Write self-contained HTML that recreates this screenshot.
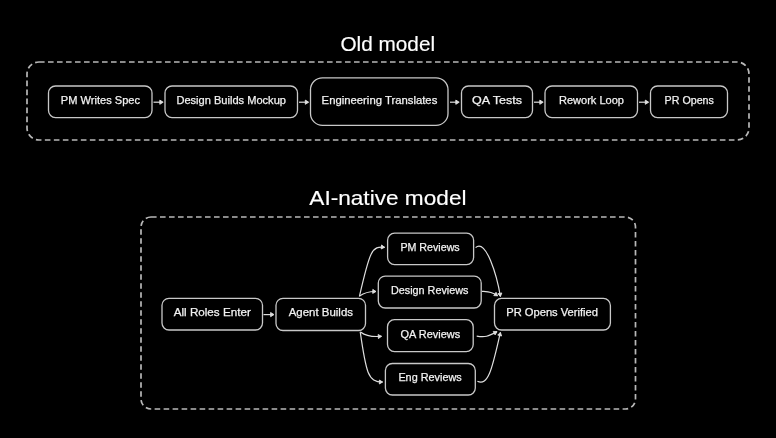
<!DOCTYPE html>
<html><head><meta charset="utf-8"><style>
html,body{margin:0;padding:0;background:#000;width:776px;height:438px;overflow:hidden}
svg{display:block;will-change:transform}
.t{font-family:"Liberation Sans",sans-serif;font-size:11px;fill:#f2f2f2;stroke:#f2f2f2;stroke-width:0.25px}
.h{font-family:"Liberation Sans",sans-serif;font-size:21px;fill:#fff;stroke:#fff;stroke-width:0.15px}
</style></head><body>
<svg width="776" height="438" viewBox="0 0 776 438">
<rect width="776" height="438" fill="#000"/>
<text x="340.4" y="50.6" textLength="94.7" lengthAdjust="spacingAndGlyphs" class="h">Old model</text>
<text x="309.3" y="205.3" textLength="157.2" lengthAdjust="spacingAndGlyphs" class="h">AI-native model</text>
<rect x="48.5" y="86" width="103.5" height="31.6" rx="7" ry="7" fill="none" stroke="#c8c8c8" stroke-width="1.3"/>
<text x="60.8" y="103.7" textLength="79.2" lengthAdjust="spacingAndGlyphs" class="t">PM Writes Spec</text>
<rect x="165" y="86" width="132.5" height="31.6" rx="7" ry="7" fill="none" stroke="#c8c8c8" stroke-width="1.3"/>
<text x="176.4" y="103.7" textLength="109.6" lengthAdjust="spacingAndGlyphs" class="t">Design Builds Mockup</text>
<rect x="310.5" y="77.8" width="137.5" height="47.6" rx="12" ry="12" fill="none" stroke="#c8c8c8" stroke-width="1.3"/>
<text x="321.6" y="103.5" textLength="115.7" lengthAdjust="spacingAndGlyphs" class="t">Engineering Translates</text>
<rect x="461.5" y="86" width="71.0" height="31.6" rx="7" ry="7" fill="none" stroke="#c8c8c8" stroke-width="1.3"/>
<text x="472" y="103.7" textLength="49.9" lengthAdjust="spacingAndGlyphs" class="t">QA Tests</text>
<rect x="545" y="86" width="92.5" height="31.6" rx="7" ry="7" fill="none" stroke="#c8c8c8" stroke-width="1.3"/>
<text x="559" y="103.7" textLength="65.0" lengthAdjust="spacingAndGlyphs" class="t">Rework Loop</text>
<rect x="650.5" y="86" width="77.0" height="31.6" rx="7" ry="7" fill="none" stroke="#c8c8c8" stroke-width="1.3"/>
<text x="664.6" y="103.7" textLength="49.3" lengthAdjust="spacingAndGlyphs" class="t">PR Opens</text>
<rect x="162" y="298.3" width="100.5" height="31.7" rx="7" ry="7" fill="none" stroke="#c8c8c8" stroke-width="1.3"/>
<text x="173.7" y="316.0" textLength="77.1" lengthAdjust="spacingAndGlyphs" class="t">All Roles Enter</text>
<rect x="276" y="298.3" width="89.5" height="32.2" rx="7" ry="7" fill="none" stroke="#c8c8c8" stroke-width="1.3"/>
<text x="288.7" y="316.3" textLength="64.3" lengthAdjust="spacingAndGlyphs" class="t">Agent Builds</text>
<rect x="387.6" y="233.2" width="86.0" height="31.4" rx="7" ry="7" fill="none" stroke="#c8c8c8" stroke-width="1.3"/>
<text x="400.4" y="250.8" textLength="59.3" lengthAdjust="spacingAndGlyphs" class="t">PM Reviews</text>
<rect x="378.3" y="276.1" width="102.9" height="31.9" rx="7" ry="7" fill="none" stroke="#c8c8c8" stroke-width="1.3"/>
<text x="391" y="293.9" textLength="77.4" lengthAdjust="spacingAndGlyphs" class="t">Design Reviews</text>
<rect x="387.5" y="319.7" width="85.7" height="31.9" rx="7" ry="7" fill="none" stroke="#c8c8c8" stroke-width="1.3"/>
<text x="400.5" y="337.5" textLength="59.7" lengthAdjust="spacingAndGlyphs" class="t">QA Reviews</text>
<rect x="385.4" y="363.5" width="89.9" height="31.5" rx="7" ry="7" fill="none" stroke="#c8c8c8" stroke-width="1.3"/>
<text x="398.4" y="381.1" textLength="63.3" lengthAdjust="spacingAndGlyphs" class="t">Eng Reviews</text>
<rect x="494.5" y="298.4" width="115.9" height="31.6" rx="7" ry="7" fill="none" stroke="#c8c8c8" stroke-width="1.3"/>
<text x="506.2" y="316.1" textLength="91.8" lengthAdjust="spacingAndGlyphs" class="t">PR Opens Verified</text>
<rect x="27" y="62" width="722" height="78" rx="12" ry="12" fill="none" stroke="#b8b8b8" stroke-width="1.7" stroke-dasharray="5.6 3.4"/>
<rect x="141" y="217" width="494.5" height="192" rx="10" ry="10" fill="none" stroke="#b8b8b8" stroke-width="1.7" stroke-dasharray="5.6 3.4"/>
<path d="M153.5 102.2 L162 102.2" stroke="#dedede" stroke-width="1.2" fill="none"/>
<path d="M159.8 100.10000000000001 L163.2 102.2 L159.8 104.3 Z" stroke="#dedede" stroke-width="0.9" fill="#dedede" stroke-linejoin="round"/>
<path d="M299.0 102.2 L307.5 102.2" stroke="#dedede" stroke-width="1.2" fill="none"/>
<path d="M305.3 100.10000000000001 L308.7 102.2 L305.3 104.3 Z" stroke="#dedede" stroke-width="0.9" fill="#dedede" stroke-linejoin="round"/>
<path d="M450.0 102.2 L458 102.2" stroke="#dedede" stroke-width="1.2" fill="none"/>
<path d="M455.8 100.10000000000001 L459.2 102.2 L455.8 104.3 Z" stroke="#dedede" stroke-width="0.9" fill="#dedede" stroke-linejoin="round"/>
<path d="M534.0 102.2 L542 102.2" stroke="#dedede" stroke-width="1.2" fill="none"/>
<path d="M539.8 100.10000000000001 L543.2 102.2 L539.8 104.3 Z" stroke="#dedede" stroke-width="0.9" fill="#dedede" stroke-linejoin="round"/>
<path d="M639.0 102.2 L647.5 102.2" stroke="#dedede" stroke-width="1.2" fill="none"/>
<path d="M645.3 100.10000000000001 L648.7 102.2 L645.3 104.3 Z" stroke="#dedede" stroke-width="0.9" fill="#dedede" stroke-linejoin="round"/>
<path d="M263.5 314.6 L272 314.6" stroke="#dedede" stroke-width="1.2" fill="none"/>
<path d="M270.6 312.5 L274 314.6 L270.6 316.7 Z" stroke="#dedede" stroke-width="0.9" fill="#dedede" stroke-linejoin="round"/>
<path d="M359.4 296.5 C370 250 372 246 384.6 247.3" stroke="#dedede" stroke-width="1.2" fill="none"/>
<path d="M381.17 248.94 L384.6 247.3 L381.58 244.99 Z" stroke="#dedede" stroke-width="0.9" fill="#dedede" stroke-linejoin="round"/>
<path d="M359.6 296 C364 293 369 291.3 376 291.5" stroke="#dedede" stroke-width="1.2" fill="none"/>
<path d="M372.71 293.39 L376 291.5 L372.82 289.42 Z" stroke="#dedede" stroke-width="0.9" fill="#dedede" stroke-linejoin="round"/>
<path d="M360.9 332.2 C365 335.5 372 337 381.5 336.3" stroke="#dedede" stroke-width="1.2" fill="none"/>
<path d="M378.42 338.52 L381.5 336.3 L378.12 334.56 Z" stroke="#dedede" stroke-width="0.9" fill="#dedede" stroke-linejoin="round"/>
<path d="M360.2 331.7 C366 372.5 368 382 382.6 382" stroke="#dedede" stroke-width="1.2" fill="none"/>
<path d="M379.36 383.99 L382.6 382 L379.36 380.01 Z" stroke="#dedede" stroke-width="0.9" fill="#dedede" stroke-linejoin="round"/>
<path d="M475.6 247.6 C486 238 497 276 500.4 296.5" stroke="#dedede" stroke-width="1.2" fill="none"/>
<path d="M497.91 293.63 L500.4 296.5 L501.83 292.98 Z" stroke="#dedede" stroke-width="0.9" fill="#dedede" stroke-linejoin="round"/>
<path d="M481.9 291.3 C489 292 492 292 497.6 295.8" stroke="#dedede" stroke-width="1.2" fill="none"/>
<path d="M493.80 295.62 L497.6 295.8 L496.03 292.34 Z" stroke="#dedede" stroke-width="0.9" fill="#dedede" stroke-linejoin="round"/>
<path d="M476.7 336.1 C485 337.5 488 336.5 497 331.6" stroke="#dedede" stroke-width="1.2" fill="none"/>
<path d="M495.10 334.89 L497 331.6 L493.21 331.40 Z" stroke="#dedede" stroke-width="0.9" fill="#dedede" stroke-linejoin="round"/>
<path d="M477.4 381.3 C489 387 493 364 500.4 332.4" stroke="#dedede" stroke-width="1.2" fill="none"/>
<path d="M501.60 336.01 L500.4 332.4 L497.73 335.10 Z" stroke="#dedede" stroke-width="0.9" fill="#dedede" stroke-linejoin="round"/>
</svg></body></html>
